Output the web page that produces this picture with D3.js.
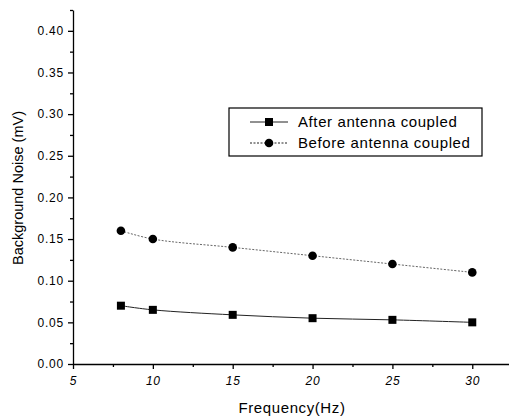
<!DOCTYPE html>
<html>
<head>
<meta charset="utf-8">
<script src="https://cdn.jsdelivr.net/npm/d3@7"></script>
<style>
  body { margin: 0; background: #fff; }
  text { font-family: "Liberation Sans", Arial, sans-serif; fill: #000; }
</style>
</head>
<body>
<div id="chart"></div>
<script>
// data
const frequency = [8, 10, 15, 20, 25, 30];
const afterCoupled = [0.070, 0.065, 0.059, 0.055, 0.053, 0.050];
const beforeCoupled = [0.160, 0.150, 0.140, 0.130, 0.120, 0.110];
const xTicks = [5, 10, 15, 20, 25, 30];
const yTicks = [0, 0.05, 0.10, 0.15, 0.20, 0.25, 0.30, 0.35, 0.40];

const width = 509;
const height = 420;
const margin = { top: 10, right: 0, bottom: 56, left: 73 };

const svg = d3.select("#chart")
  .append("svg")
  .attr("width", width)
  .attr("height", height);

const x = d3.scaleLinear()
  .domain([5, 32.3])
  .range([margin.left, width - margin.right]);

const y = d3.scaleLinear()
  .domain([0, 0.425])
  .range([height - margin.bottom, margin.top]);

// x axis
const xAxis = svg.append("g")
  .attr("transform", `translate(0,${y(0)})`);
xAxis.append("g")
  .call(d3.axisBottom(x).tickValues(d3.range(7.5, 32, 5)).tickSize(3).tickFormat(""))
  .call(g => g.select(".domain").remove());
xAxis.append("g")
  .call(d3.axisBottom(x).tickValues(xTicks).tickSize(5).tickPadding(7).tickSizeOuter(0))
  .call(g => g.selectAll("text").attr("font-size", 12).attr("font-style", "italic")
    .attr("letter-spacing", 0.8));
xAxis.selectAll("line, path").attr("stroke", "#000").attr("stroke-width", 1.3);

// y axis
const yAxis = svg.append("g")
  .attr("transform", `translate(${x(5)},0)`);
yAxis.append("g")
  .call(d3.axisLeft(y).tickValues(d3.range(0.025, 0.43, 0.05)).tickSize(3).tickFormat(""))
  .call(g => g.select(".domain").remove());
yAxis.append("g")
  .call(d3.axisLeft(y).tickValues(yTicks).tickSize(5).tickPadding(4).tickSizeOuter(0)
    .tickFormat(d3.format(".2f")))
  .call(g => g.selectAll("text").attr("font-size", 12).attr("letter-spacing", 0.8));
yAxis.selectAll("line, path").attr("stroke", "#000").attr("stroke-width", 1.3);

// axis titles
svg.append("text")
  .attr("x", 292)
  .attr("y", 413)
  .attr("text-anchor", "middle")
  .attr("font-size", 15)
  .attr("letter-spacing", 0.6)
  .text("Frequency(Hz)");

svg.append("text")
  .attr("transform", `translate(23,188) rotate(-90)`)
  .attr("text-anchor", "middle")
  .attr("font-size", 14.5)
  .text("Background Noise (mV)");

// series
const line = d3.line()
  .x(d => x(d[0]))
  .y(d => y(d[1]))
  .curve(d3.curveCatmullRom);

const afterPts = frequency.map((f, i) => [f, afterCoupled[i]]);
const beforePts = frequency.map((f, i) => [f, beforeCoupled[i]]);

svg.append("path")
  .datum(afterPts)
  .attr("fill", "none")
  .attr("stroke", "#222")
  .attr("stroke-width", 1)
  .attr("d", line);

svg.append("path")
  .datum(beforePts)
  .attr("fill", "none")
  .attr("stroke", "#666")
  .attr("stroke-width", 1)
  .attr("stroke-dasharray", "2,1.5")
  .attr("d", line);

svg.selectAll(".sq")
  .data(afterPts)
  .enter().append("rect")
  .attr("x", d => x(d[0]) - 4)
  .attr("y", d => y(d[1]) - 4)
  .attr("width", 8)
  .attr("height", 8)
  .attr("fill", "#000");

svg.selectAll(".dot")
  .data(beforePts)
  .enter().append("circle")
  .attr("cx", d => x(d[0]))
  .attr("cy", d => y(d[1]))
  .attr("r", 4.3)
  .attr("fill", "#000");

// legend
const legend = svg.append("g");
legend.append("rect")
  .attr("x", 229)
  .attr("y", 108)
  .attr("width", 253)
  .attr("height", 48)
  .attr("fill", "#fff")
  .attr("stroke", "#000")
  .attr("stroke-width", 1.2);

const legendRows = [
  { label: "After antenna coupled", shape: "square", dash: null, y: 122 },
  { label: "Before antenna coupled", shape: "circle", dash: "2,1.5", y: 143 }
];

const row = legend.selectAll(".row")
  .data(legendRows)
  .enter().append("g")
  .attr("transform", d => `translate(0,${d.y})`);

row.append("line")
  .attr("x1", 250)
  .attr("x2", 288)
  .attr("stroke", "#222")
  .attr("stroke-width", 1)
  .attr("stroke-dasharray", d => d.dash);

row.filter(d => d.shape === "square").append("rect")
  .attr("x", 265)
  .attr("y", -4)
  .attr("width", 8)
  .attr("height", 8);

row.filter(d => d.shape === "circle").append("circle")
  .attr("cx", 269)
  .attr("r", 4.3);

row.append("text")
  .attr("x", 298)
  .attr("dy", "0.36em")
  .attr("font-size", 15)
  .attr("letter-spacing", 0.6)
  .text(d => d.label);
</script>
</body>
</html>
